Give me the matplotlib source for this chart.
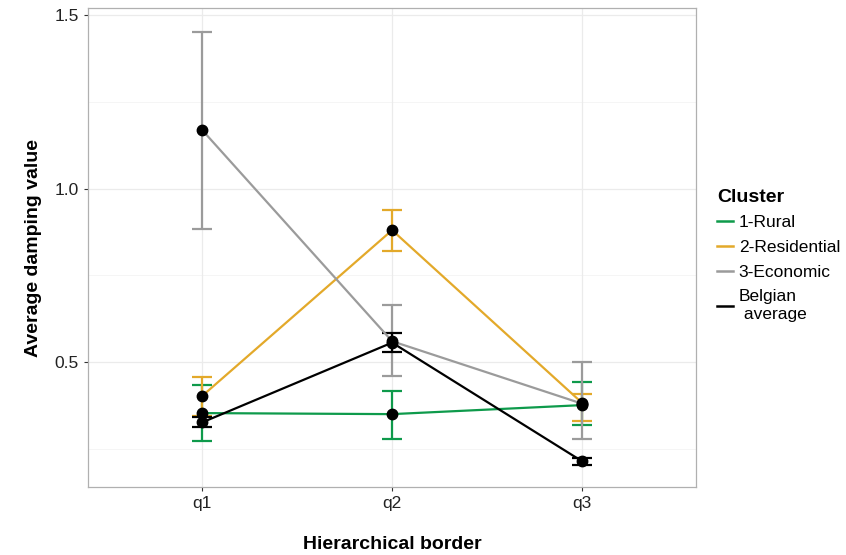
import matplotlib
matplotlib.use("Agg")
import matplotlib.pyplot as plt
from matplotlib.lines import Line2D

plt.rcParams['font.family'] = ['Liberation Sans', 'DejaVu Sans']

borders = ["q1", "q2", "q3"]
series_names = ["1-Rural", "2-Residential", "3-Economic", "Belgian\n average"]
colors = ["#0E9A4B", "#E3A92A", "#9B9B9B", "#000000"]

rural_mean = [0.353, 0.350, 0.376]
rural_lo = [0.272, 0.278, 0.318]
rural_hi = [0.434, 0.417, 0.442]

resid_mean = [0.402, 0.880, 0.382]
resid_lo = [0.345, 0.820, 0.330]
resid_hi = [0.457, 0.938, 0.408]

econ_mean = [1.169, 0.560, 0.380]
econ_lo = [0.883, 0.460, 0.278]
econ_hi = [1.451, 0.664, 0.500]

belg_mean = [0.326, 0.556, 0.214]
belg_lo = [0.313, 0.529, 0.203]
belg_hi = [0.341, 0.584, 0.223]

means = [rural_mean, resid_mean, econ_mean, belg_mean]
los = [rural_lo, resid_lo, econ_lo, belg_lo]
his = [rural_hi, resid_hi, econ_hi, belg_hi]

fig = plt.figure(figsize=(8.46, 5.55), dpi=100)
ax = fig.add_axes([0.104, 0.1225, 0.719, 0.863])

x = list(range(len(borders)))
ax.set_xlim(-0.6, 2.6)
ax.set_ylim(0.14, 1.52)

# grid
for yv in [0.25, 0.75, 1.25]:
    ax.axhline(yv, color="#F4F4F4", lw=0.6, zorder=0)
for yv in [0.5, 1.0, 1.5]:
    ax.axhline(yv, color="#EBEBEB", lw=0.9, zorder=0)
for xv in x:
    ax.axvline(xv, color="#EBEBEB", lw=0.9, zorder=0)

handles = []
for m, lo, hi, c, name in zip(means, los, his, colors, series_names):
    yerr = [[mm - l for mm, l in zip(m, lo)], [h - mm for mm, h in zip(m, hi)]]
    ax.errorbar(x, m, yerr=yerr, fmt="none", ecolor=c, elinewidth=1.6,
                capsize=7.2, capthick=1.6, zorder=2)
    ax.plot(x, m, color=c, lw=1.6, zorder=3)
    handles.append(Line2D([0], [0], color=c, lw=1.8, label=name))

for m in means:
    ax.plot(x, m, "o", color="black", ms=7.5, zorder=4, lw=0)

ax.set_xticks(x)
ax.set_xticklabels(borders)
ax.set_yticks([0.5, 1.0, 1.5])
ax.set_yticklabels(["0.5", "1.0", "1.5"])
ax.tick_params(axis="both", labelsize=12.5, colors="#333333", length=3,
               width=0.8, labelcolor="#222222")
for sp in ax.spines.values():
    sp.set_color("#B0B0B0")
    sp.set_linewidth(0.9)

ax.set_xlabel("Hierarchical border", fontsize=14, fontweight="bold", labelpad=18)
ax.set_ylabel("Average damping value", fontsize=14, fontweight="bold", labelpad=9)

leg = fig.legend(handles=handles, title="Cluster", loc="upper left",
                 bbox_to_anchor=(0.829, 0.688), frameon=False, fontsize=12.5,
                 title_fontsize=14, handlelength=0.95, handletextpad=0.3,
                 labelspacing=0.55, alignment="left")
leg.get_title().set_fontweight("bold")

fig.savefig("out.png", dpi=100)
